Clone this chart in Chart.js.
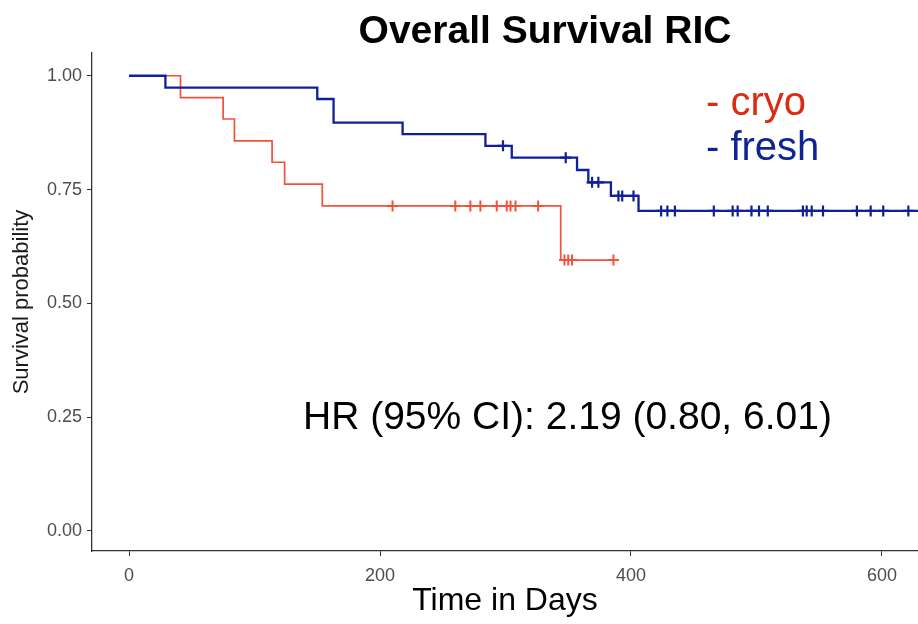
<!DOCTYPE html>
<html>
<head>
<meta charset="utf-8">
<script src="https://cdn.jsdelivr.net/npm/chart.js@4.4.1/dist/chart.umd.min.js"></script>
<style>
  html, body { margin: 0; padding: 0; background: #fff; }
  #wrap { width: 918px; height: 624px; }
</style>
</head>
<body>
<div id="wrap"><canvas id="km" width="918" height="624"></canvas></div>
<script>
// Kaplan-Meier steps (days, survival)
const freshTimes = [0, 29, 150, 163, 218, 284, 305, 357, 366, 384, 406, 640];
const freshSurv = [1, 0.974, 0.949, 0.897, 0.872, 0.846, 0.820, 0.793, 0.766, 0.736, 0.703, 0.703];
const cryoTimes = [0, 41, 75, 84, 114, 124, 154, 344, 386];
const cryoSurv = [1, 0.952, 0.905, 0.857, 0.810, 0.762, 0.714, 0.595, 0.595];

// censored observations ("+")
const freshCensorTimes = [298, 348, 369, 374, 390, 393, 402, 424, 429, 435, 466, 481, 485, 496, 502, 509, 537, 540, 544, 553, 580, 591, 601, 621];
const freshCensorSurv = [0.846, 0.820, 0.766, 0.766, 0.736, 0.736, 0.736, 0.703, 0.703, 0.703, 0.703, 0.703, 0.703, 0.703, 0.703, 0.703, 0.703, 0.703, 0.703, 0.703, 0.703, 0.703, 0.703, 0.703];
const cryoCensorTimes = [210, 260, 272, 280, 293, 301, 304, 308, 326, 347, 350, 353, 386];
const cryoCensorSurv = [0.714, 0.714, 0.714, 0.714, 0.714, 0.714, 0.714, 0.714, 0.714, 0.595, 0.595, 0.595, 0.595];

const xTicks = [0, 200, 400, 600];
const yTicks = [0, 0.25, 0.5, 0.75, 1];
const seriesNames = ["cryo", "fresh"];

const freshColor = "#10209a";
const cryoColor = "#f4503a";
const font = '"Liberation Sans", Arial, sans-serif';

const toPoints = (xs, ys) => xs.map((x, i) => ({ x: x, y: ys[i] }));

const textLayer = {
  id: "textLayer",
  beforeDraw(chart) {
    const ctx = chart.ctx;
    ctx.save();
    ctx.fillStyle = "#fff";
    ctx.fillRect(0, 0, chart.width, chart.height);
    ctx.restore();
  },
  afterDraw(chart) {
    const ctx = chart.ctx;
    ctx.save();
    ctx.textBaseline = "alphabetic";
    ctx.textAlign = "center";
    ctx.fillStyle = "#000";
    ctx.font = "bold 39px " + font;
    ctx.fillText("Overall Survival RIC", 545, 43);

    ctx.textAlign = "left";
    ctx.font = "40px " + font;
    ctx.fillStyle = "#dd2a12";
    ctx.fillText("- " + seriesNames[0], 706, 115);
    ctx.fillStyle = "#0f2494";
    ctx.fillText("- " + seriesNames[1], 706, 160);

    ctx.fillStyle = "#000";
    ctx.font = "39px " + font;
    ctx.fillText("HR (95% CI): 2.19 (0.80, 6.01)", 303, 429);
    ctx.restore();
  },
};

new Chart(document.getElementById("km"), {
  type: "line",
  data: {
    datasets: [
      {
        label: seriesNames[1],
        data: toPoints(freshTimes, freshSurv),
        stepped: true,
        borderColor: freshColor,
        borderWidth: 2.3,
        pointRadius: 0,
        fill: false,
      },
      {
        label: seriesNames[0],
        data: toPoints(cryoTimes, cryoSurv),
        stepped: true,
        borderColor: cryoColor,
        borderWidth: 1.7,
        pointRadius: 0,
        fill: false,
      },
      {
        label: seriesNames[1] + " censored",
        type: "scatter",
        data: toPoints(freshCensorTimes, freshCensorSurv),
        pointStyle: "cross",
        pointRadius: 5.5,
        borderColor: freshColor,
        borderWidth: 2.2,
      },
      {
        label: seriesNames[0] + " censored",
        type: "scatter",
        data: toPoints(cryoCensorTimes, cryoCensorSurv),
        pointStyle: "cross",
        pointRadius: 5.5,
        borderColor: cryoColor,
        borderWidth: 2,
      },
    ],
  },
  options: {
    responsive: false,
    animation: false,
    layout: { autoPadding: false, padding: { top: 53, left: 0, right: 0, bottom: 0 } },
    plugins: { legend: { display: false }, tooltip: { enabled: false } },
    scales: {
      x: {
        type: "linear",
        min: -29.5,
        max: 628.7,
        afterBuildTicks: (s) => { s.ticks = xTicks.map((v) => ({ value: v })); },
        afterFit: (s) => {
          s.height = 73;
          s.paddingLeft = 0;
          s.paddingRight = 0;
        },
        grid: { drawOnChartArea: false, drawTicks: true, tickLength: 5, color: "#333" },
        border: { color: "#333", width: 1.3 },
        ticks: { font: { family: font, size: 18 }, color: "#4d4d4d", padding: 9, maxRotation: 0 },
        title: {
          display: true,
          text: "Time in Days",
          color: "#000",
          font: { family: font, size: 32 },
          padding: { top: 0, bottom: 4 },
        },
      },
      y: {
        min: -0.044,
        max: 1.05,
        afterBuildTicks: (s) => { s.ticks = yTicks.map((v) => ({ value: v })); },
        afterFit: (s) => { s.width = 92; },
        grid: { drawOnChartArea: false, drawTicks: true, tickLength: 5, color: "#333" },
        border: { color: "#333", width: 1.3 },
        ticks: {
          font: { family: font, size: 18 },
          color: "#4d4d4d",
          padding: 5,
          callback: (v) => v.toFixed(2),
        },
        title: {
          display: true,
          text: "Survival probability",
          color: "#1a1a1a",
          font: { family: font, size: 22 },
          padding: { top: 9, bottom: 0 },
        },
      },
    },
  },
  plugins: [textLayer],
});
</script>
</body>
</html>
